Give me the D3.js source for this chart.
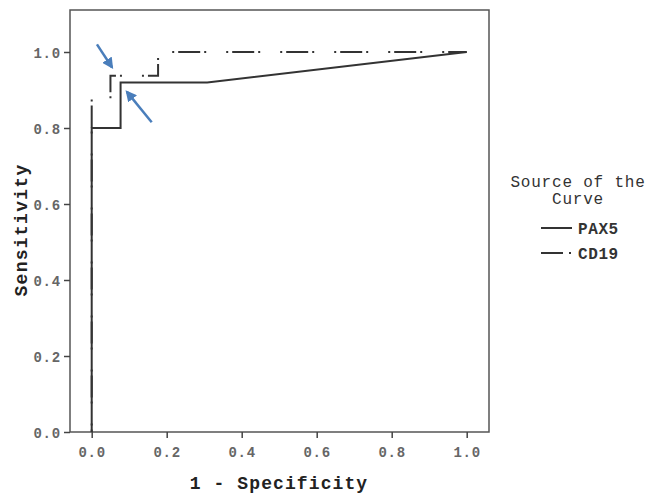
<!DOCTYPE html>
<html>
<head>
<meta charset="utf-8">
<script src="https://cdn.jsdelivr.net/npm/d3@7"></script>
<style>
  body { margin: 0; background: #fff; }
  text { font-family: "Liberation Mono", "DejaVu Sans Mono", monospace; }
</style>
</head>
<body>
<svg id="chart" width="659" height="493"></svg>
<script>
// ROC curve points, [1 - specificity, sensitivity]
var pax5 = [[0, 0], [0, 0.8], [0.077, 0.8], [0.077, 0.92], [0.308, 0.92], [1, 1]];
var cd19 = [[0, 0], [0, 0.875], [0.05, 0.875], [0.05, 0.9375], [0.177, 0.9375], [0.177, 1], [1, 1]];
var tickValues = [0, 0.2, 0.4, 0.6, 0.8, 1.0];
var seriesNames = ['PAX5', 'CD19'];
var legendTitle = ['Source of the', 'Curve'];
// blue annotation arrows, [tail, head] in data units
var arrows = [
  [[0.014, 1.02], [0.054, 0.96]],
  [[0.16, 0.815], [0.094, 0.895]]
];

var svg = d3.select('#chart');

var x = d3.scaleLinear().domain([0, 1]).range([91.7, 466.7]);
var y = d3.scaleLinear().domain([0, 1]).range([432, 52]);

var frameLeft = 70, frameRight = 489, frameTop = 10, frameBottom = 432;
var dashDot = '2,4,22,4,2,20';

// frame
svg.append('rect')
  .attr('x', frameLeft)
  .attr('y', frameTop)
  .attr('width', frameRight - frameLeft)
  .attr('height', frameBottom - frameTop)
  .attr('fill', 'none')
  .attr('stroke', '#555')
  .attr('stroke-width', 1.5);

// axes
var xAxis = svg.append('g')
  .attr('transform', 'translate(0,' + frameBottom + ')')
  .call(d3.axisBottom(x).tickValues(tickValues).tickFormat(d3.format('.1f')).tickSize(6).tickPadding(9));
var yAxis = svg.append('g')
  .attr('transform', 'translate(' + frameLeft + ',0)')
  .call(d3.axisLeft(y).tickValues(tickValues).tickFormat(d3.format('.1f')).tickSize(6).tickPadding(3));

[xAxis, yAxis].forEach(function (g) {
  g.select('.domain').remove();
  g.selectAll('line').attr('stroke', '#444').attr('stroke-width', 1.5);
  g.selectAll('text')
    .attr('fill', '#666')
    .style('font-size', '14px')
    .style('font-weight', 'bold')
    .style('letter-spacing', '0.8px')
    .style('font-family', '"Liberation Mono", monospace');
});
yAxis.selectAll('text').attr('dy', '0.36em');

// axis titles
svg.append('text')
  .attr('x', 279)
  .attr('y', 489)
  .attr('text-anchor', 'middle')
  .style('font-size', '18px')
  .style('font-weight', 'bold')
  .style('letter-spacing', '1.1px')
  .attr('fill', '#222')
  .text('1 - Specificity');

svg.append('text')
  .attr('transform', 'translate(27,230) rotate(-90)')
  .attr('text-anchor', 'middle')
  .style('font-size', '18px')
  .style('font-weight', 'bold')
  .style('letter-spacing', '1.3px')
  .attr('fill', '#222')
  .text('Sensitivity');

// curves
var line = d3.line()
  .x(function (d) { return x(d[0]); })
  .y(function (d) { return y(d[1]); });

svg.append('path')
  .datum(cd19)
  .attr('d', line)
  .attr('fill', 'none')
  .attr('stroke', '#333')
  .attr('stroke-width', 2)
  .attr('stroke-dasharray', dashDot)
  .attr('stroke-dashoffset', 25.5);

svg.append('path')
  .datum(pax5)
  .attr('d', line)
  .attr('fill', 'none')
  .attr('stroke', '#333')
  .attr('stroke-width', 2);

// arrows
var defs = svg.append('defs');
defs.append('marker')
  .attr('id', 'arrowHead')
  .attr('viewBox', '0 0 10 10')
  .attr('refX', 8)
  .attr('refY', 5)
  .attr('markerWidth', 4.5)
  .attr('markerHeight', 4.5)
  .attr('orient', 'auto')
  .append('path')
  .attr('d', 'M0,0 L10,5 L0,10 Z')
  .attr('fill', '#4a7ebb');

svg.selectAll('.note-arrow')
  .data(arrows)
  .enter()
  .append('line')
  .attr('class', 'note-arrow')
  .attr('x1', function (d) { return x(d[0][0]); })
  .attr('y1', function (d) { return y(d[0][1]); })
  .attr('x2', function (d) { return x(d[1][0]); })
  .attr('y2', function (d) { return y(d[1][1]); })
  .attr('stroke', '#4a7ebb')
  .attr('stroke-width', 2.5)
  .attr('marker-end', 'url(#arrowHead)');

// legend
var legend = svg.append('g');
legend.selectAll('.legend-title')
  .data(legendTitle)
  .enter()
  .append('text')
  .attr('x', 578)
  .attr('y', function (d, i) { return 187 + i * 17; })
  .attr('text-anchor', 'middle')
  .style('font-size', '16px')
  .style('letter-spacing', '0.8px')
  .attr('fill', '#333')
  .text(function (d) { return d; });

var items = legend.selectAll('.legend-item')
  .data(seriesNames)
  .enter()
  .append('g')
  .attr('transform', function (d, i) { return 'translate(0,' + (228 + i * 25) + ')'; });

items.append('line')
  .attr('x1', 541)
  .attr('x2', 572)
  .attr('stroke', '#333')
  .attr('stroke-width', 2)
  .attr('stroke-dasharray', function (d, i) { return i === 0 ? null : '22,6,2,20'; });

items.append('text')
  .attr('x', 578)
  .attr('dy', '0.36em')
  .style('font-size', '16px')
  .style('font-weight', 'bold')
  .style('letter-spacing', '0.6px')
  .attr('fill', '#333')
  .text(function (d) { return d; });
</script>
</body>
</html>
